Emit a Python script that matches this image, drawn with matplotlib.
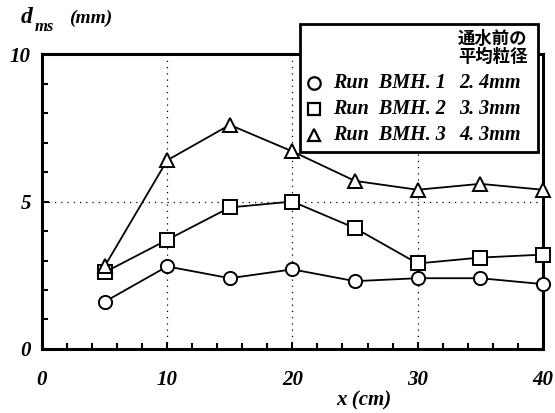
import matplotlib
matplotlib.use("Agg")
import matplotlib.pyplot as plt
from matplotlib.patches import Rectangle
from matplotlib.ticker import MultipleLocator

plt.rcParams['font.family'] = ['Liberation Serif', 'Noto Sans CJK JP']

x_cm = [5, 10, 15, 20, 25, 30, 35, 40]
bmh1 = [1.6, 2.8, 2.4, 2.7, 2.3, 2.4, 2.4, 2.2]
bmh2 = [2.6, 3.7, 4.8, 5.0, 4.1, 2.9, 3.1, 3.2]
bmh3 = [2.8, 6.4, 7.6, 6.7, 5.7, 5.4, 5.6, 5.4]
run_names = ["Run  BMH. 1", "Run  BMH. 2", "Run  BMH. 3"]
mean_sizes = ["2. 4mm", "3. 3mm", "4. 3mm"]
markers = ["o", "s", "^"]

fig = plt.figure(figsize=(5.55, 4.13), dpi=100)
ax = fig.add_axes([0.0757, 0.155, 0.9023, 0.714])

for ys, m in zip([bmh1, bmh2, bmh3], markers):
    ax.plot(x_cm, ys, color="black", lw=1.3, marker=m, ms=9.5,
            mfc="white", mec="black", mew=1.4, clip_on=False, zorder=3)

ax.set_xlim(0, 40)
ax.set_ylim(0, 10)
ax.xaxis.set_major_locator(MultipleLocator(10))
ax.xaxis.set_minor_locator(MultipleLocator(2))
ax.yaxis.set_major_locator(MultipleLocator(5))
ax.yaxis.set_minor_locator(MultipleLocator(1))
ax.grid(True, which="major", linestyle=(0, (1, 4)), color="black", lw=0.9)
for s in ax.spines.values():
    s.set_linewidth(2.2)
ax.tick_params(which="both", direction="in", top=False, right=False, width=1.5)
ax.tick_params(which="major", length=5)
ax.tick_params(which="minor", length=4)
ax.tick_params(axis="x", pad=15)
ax.tick_params(axis="y", pad=8)
for lab in ax.get_xticklabels() + ax.get_yticklabels():
    lab.set_fontsize(15)
    lab.set_fontweight("bold")
    lab.set_fontstyle("italic")

# y axis title in the top left corner
fig.text(0.038, 0.958, "d", fontsize=17, fontweight="bold", style="italic",
         ha="left", va="center")
fig.text(0.063, 0.935, "ms", fontsize=12, fontweight="bold", style="italic",
         ha="left", va="center")
fig.text(0.125, 0.955, "(mm)", fontsize=14, fontweight="bold", style="italic",
         ha="left", va="center")
fig.text(0.655, 0.03, "x (cm)", fontsize=15, fontweight="bold", style="italic",
         ha="center", va="center")

# legend box
fig.patches.append(Rectangle((0.541, 0.632), 0.428, 0.31, transform=fig.transFigure,
                             facecolor="white", edgecolor="black", lw=2.0, zorder=5))
fig.text(0.888, 0.884, "通水前の\n平均粒径", fontsize=12.5, fontweight="bold",
         family=["Noto Sans CJK JP"], ha="center", va="center", linespacing=1.0,
         zorder=6)
row_y = [0.799, 0.737, 0.673]
for yy, m, name, size in zip(row_y, markers, run_names, mean_sizes):
    fig.lines.append(plt.Line2D([0.565], [yy], transform=fig.transFigure, marker=m,
                                ms=9, mfc="white", mec="black", mew=1.6, ls="",
                                zorder=6))
    fig.text(0.6, yy, name, fontsize=14.5, fontweight="bold", style="italic",
             va="center", zorder=6)
    fig.text(0.828, yy, size, fontsize=14.5, fontweight="bold", style="italic",
             va="center", zorder=6)

fig.savefig("out.png", dpi=100)
